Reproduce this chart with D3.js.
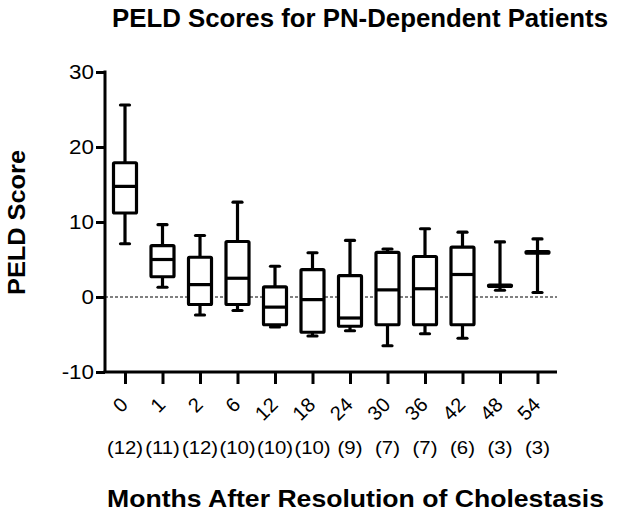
<!DOCTYPE html>
<html><head><meta charset="utf-8">
<script src="https://cdn.jsdelivr.net/npm/d3@7"></script>
<style>body{margin:0;background:#fff}svg{display:block}text{font-family:"Liberation Sans",Arial,sans-serif}</style>
</head><body>
<svg id="c" width="619" height="517"></svg>
<script>
const categories = ["0","1","2","6","12","18","24","30","36","42","48","54"];
const counts = ["(12)","(11)","(12)","(10)","(10)","(10)","(9)","(7)","(7)","(6)","(3)","(3)"];
const mins    = [7.1, 1.3, -2.4, -1.8, -4.0, -5.2, -4.5, -6.5, -4.9, -5.5, 0.9, 0.6];
const q1s     = [11.2, 2.7, -1.0, -1.0, -3.7, -4.7, -3.9, -3.7, -3.7, -3.7, 1.4, 5.85];
const medians = [14.75, 5.0, 1.65, 2.5, -1.35, -0.35, -2.8, 0.95, 1.1, 3.0, 1.5, 5.95];
const q3s     = [17.9, 6.85, 5.3, 7.4, 1.35, 3.65, 2.85, 5.95, 5.4, 6.65, 1.6, 6.05];
const maxs    = [25.6, 9.65, 8.2, 12.65, 4.1, 5.9, 7.55, 6.4, 9.1, 8.65, 7.35, 7.75];
const yTicks = [-10, 0, 10, 20, 30];

const svg = d3.select("#c");
const y = d3.scaleLinear().domain([-10, 30]).range([372, 72]);
const x = d3.scalePoint().domain(categories).range([125, 537.5]);
const axisLeftX = 105, axisBottomY = 372, axisRightX = 557;

svg.append("line").attr("x1", axisLeftX).attr("x2", axisRightX)
  .attr("y1", y(0)).attr("y2", y(0))
  .attr("stroke", "#000").attr("stroke-width", 1).attr("stroke-dasharray", "3,2");

const yAxis = svg.append("g").attr("transform", `translate(${axisLeftX},0)`)
  .call(d3.axisLeft(y).tickValues(yTicks).tickSize(9).tickFormat(() => ""));
yAxis.select(".domain").attr("stroke-width", 3).attr("d", `M0,${y(30)-1.5}V${axisBottomY}`);
yAxis.selectAll(".tick line").attr("stroke-width", 3);
svg.append("g").selectAll("text").data(yTicks).join("text")
  .attr("transform", d => `translate(${axisLeftX - 11},${y(d)}) scale(1.12,1)`)
  .attr("text-anchor", "end").attr("dy", "0.36em").attr("font-size", 20).attr("fill", "#000")
  .text(d => d);

const xAxis = svg.append("g").attr("transform", `translate(0,${axisBottomY})`)
  .call(d3.axisBottom(x).tickSize(12).tickFormat(() => ""));
xAxis.select(".domain").attr("stroke-width", 3).attr("d", `M${axisLeftX-1.5},0H${axisRightX}`);
xAxis.selectAll(".tick line").attr("stroke-width", 3);

svg.append("g").selectAll("text").data(categories).join("text")
  .attr("transform", d => `translate(${x(d)+4},${406}) rotate(-45)`)
  .attr("text-anchor", "end").attr("font-size", 20).attr("fill", "#000")
  .text(d => d);

svg.append("g").selectAll("text").data(categories).join("text")
  .attr("transform", d => `translate(${x(d)},454) scale(1.1,1)`)
  .attr("text-anchor", "middle").attr("font-size", 18.5).attr("fill", "#000")
  .text((d, i) => counts[i]);

const bw = 23, cw = 9;
const g = svg.append("g").attr("stroke", "#000").attr("stroke-width", 3.2).attr("fill", "none");
categories.forEach((c, i) => {
  const cx = x(c);
  const b = g.append("g");
  b.append("line").attr("x1", cx).attr("x2", cx).attr("y1", y(maxs[i])).attr("y2", y(q3s[i]));
  b.append("line").attr("x1", cx).attr("x2", cx).attr("y1", y(q1s[i])).attr("y2", y(mins[i]));
  b.append("line").attr("x1", cx - cw/2).attr("x2", cx + cw/2).attr("y1", y(maxs[i])).attr("y2", y(maxs[i])).attr("stroke-linecap", "round");
  b.append("line").attr("x1", cx - cw/2).attr("x2", cx + cw/2).attr("y1", y(mins[i])).attr("y2", y(mins[i])).attr("stroke-linecap", "round");
  b.append("rect").attr("x", cx - bw/2).attr("width", bw)
    .attr("y", y(q3s[i])).attr("height", y(q1s[i]) - y(q3s[i])).attr("fill", "#fff").attr("rx", 1);
  b.append("line").attr("x1", cx - bw/2).attr("x2", cx + bw/2).attr("y1", y(medians[i])).attr("y2", y(medians[i]));
});

svg.append("text").attr("x", 112).attr("y", 27)
  .attr("font-size", 25).attr("font-weight", "bold").attr("fill", "#000")
  .attr("textLength", 496).attr("lengthAdjust", "spacingAndGlyphs")
  .text("PELD Scores for PN-Dependent Patients");
svg.append("text").attr("x", 107).attr("y", 507)
  .attr("font-size", 24).attr("font-weight", "bold").attr("fill", "#000")
  .attr("textLength", 497).attr("lengthAdjust", "spacingAndGlyphs")
  .text("Months After Resolution of Cholestasis");
svg.append("text").attr("transform", "translate(25,295) rotate(-90)")
  .attr("font-size", 23).attr("font-weight", "bold").attr("fill", "#000")
  .attr("textLength", 145).attr("lengthAdjust", "spacingAndGlyphs")
  .text("PELD Score");
</script>
</body></html>
